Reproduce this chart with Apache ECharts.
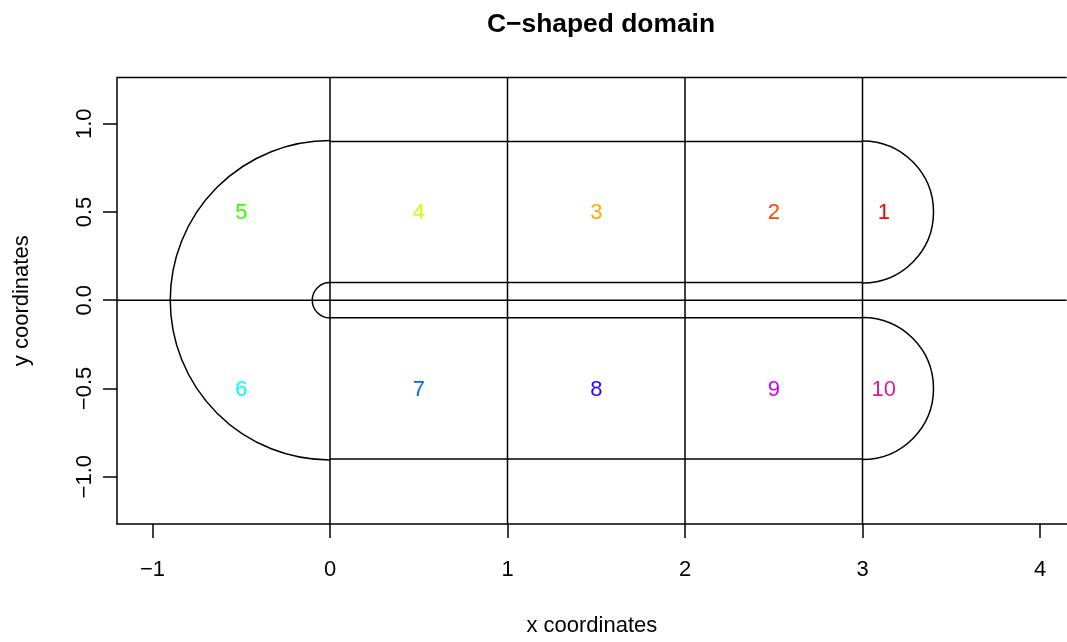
<!DOCTYPE html>
<html>
<head>
<meta charset="utf-8">
<script src="https://cdn.jsdelivr.net/npm/echarts@6/dist/echarts.min.js"></script>
<style>html,body{margin:0;padding:0;background:#fff;}#c{width:1067px;height:642px;}</style>
</head>
<body>
<div id="c"></div>
<script>
// ---- data ----
const xTicks = [-1, 0, 1, 2, 3, 4];
const yTicks = [-1, -0.5, 0, 0.5, 1];
const gridX = [0, 1, 2, 3];
const gridY = [0];
// straight boundary segments: x1, y1, x2, y2
const segX1 = [0, 3, 0, 3];
const segY1 = [0.9, 0.1, -0.1, -0.9];
const segX2 = [3, 0, 3, 0];
const segY2 = [0.9, 0.1, -0.1, -0.9];
// boundary arcs: centre, radius, math angles (deg)
const arcCx = [3, 0, 3, 0];
const arcCy = [0.5, 0, -0.5, 0];
const arcR = [0.4, 0.1, 0.4, 0.9];
const arcStart = [90, 90, 90, 90];
const arcEnd = [-90, 270, -90, 270];
// region labels
const labelText = ['1','2','3','4','5','6','7','8','9','10'];
const labelX = [3.12, 2.5, 1.5, 0.5, -0.5, -0.5, 0.5, 1.5, 2.5, 3.12];
const labelY = [0.5, 0.5, 0.5, 0.5, 0.5, -0.5, -0.5, -0.5, -0.5, -0.5];
const labelColor = ['#FF0000','#FF4400','#FFAA00','#CCFF00','#33FF00','#00FFFF','#0066FF','#3300FF','#CC00FF','#DD1AA0'];

const X_MIN = -1.2, X_MAX = 4.15, Y_MIN = -1.268, Y_MAX = 1.262;
const FONT = '"Liberation Sans", Arial, Helvetica, sans-serif';
const LW = 1.5;
const fmt = v => (v < 0 ? '\u2212' : '') + Math.abs(v);
const fmtY = v => (v < 0 ? '\u2212' : '') + Math.abs(v).toFixed(1);

const chart = echarts.init(document.getElementById('c'), null, {renderer: 'canvas'});

const lineData = [];
gridX.forEach(x => lineData.push([x, Y_MIN, x, Y_MAX]));
gridY.forEach(y => lineData.push([X_MIN, y, X_MAX, y]));
lineData.push([X_MIN, Y_MAX, X_MAX, Y_MAX]); // top of plot box
for (let i = 0; i < segX1.length; i++) lineData.push([segX1[i], segY1[i], segX2[i], segY2[i]]);

const arcData = arcCx.map((c, i) => [c, arcCy[i], arcR[i], arcStart[i], arcEnd[i]]);
const textData = labelText.map((t, i) => ({value: [labelX[i], labelY[i]], name: t, color: labelColor[i]}));

chart.setOption({
  animation: false,
  title: {
    text: 'C\u2212shaped domain',
    left: 596, top: 7, textAlign: 'center',
    textStyle: {fontFamily: FONT, fontWeight: 'bold', fontSize: 26.4, color: '#000'}
  },
  grid: {
    left: 117, top: 77.5, width: (X_MAX - X_MIN) * 177.5, height: (Y_MAX - Y_MIN) * 177.5,
    show: false
  },
  xAxis: {
    type: 'value', min: X_MIN, max: X_MAX,
    name: 'x coordinates', nameLocation: 'middle', nameGap: 91,
    nameTextStyle: {fontFamily: FONT, fontSize: 22, color: '#000'},
    axisLine: {show: true, onZero: false, lineStyle: {color: '#000', width: LW}},
    axisTick: {show: true, length: 14, customValues: xTicks, lineStyle: {color: '#000', width: LW}},
    axisLabel: {customValues: xTicks, formatter: fmt, margin: 35, fontFamily: FONT, fontSize: 22, color: '#000'},
    splitLine: {show: false}
  },
  yAxis: {
    type: 'value', min: Y_MIN, max: Y_MAX,
    name: 'y coordinates', nameLocation: 'middle', nameGap: 84, nameRotate: 90,
    nameTextStyle: {fontFamily: FONT, fontSize: 22, color: '#000'},
    axisLine: {show: true, onZero: false, lineStyle: {color: '#000', width: LW}},
    axisTick: {show: true, length: 14, customValues: yTicks, lineStyle: {color: '#000', width: LW}},
    axisLabel: {customValues: yTicks, formatter: fmtY, rotate: 90, margin: 21, fontFamily: FONT, fontSize: 22, color: '#000'},
    splitLine: {show: false}
  },
  series: [
    {
      type: 'custom', silent: true, clip: false,
      data: lineData,
      renderItem: (params, api) => {
        const p1 = api.coord([api.value(0), api.value(1)]);
        const p2 = api.coord([api.value(2), api.value(3)]);
        return {type: 'line', shape: {x1: p1[0], y1: p1[1], x2: p2[0], y2: p2[1]},
          style: {stroke: '#000', lineWidth: LW}};
      }
    },
    {
      type: 'custom', silent: true, clip: false,
      data: arcData,
      renderItem: (params, api) => {
        const c = api.coord([api.value(0), api.value(1)]);
        const r = api.size([api.value(2), 0])[0];
        const s = -api.value(3) * Math.PI / 180;
        const e = -api.value(4) * Math.PI / 180;
        return {type: 'arc', shape: {cx: c[0], cy: c[1], r: r, startAngle: Math.min(s, e), endAngle: Math.max(s, e), clockwise: true},
          style: {stroke: '#000', lineWidth: LW, fill: null}};
      }
    },
    {
      type: 'custom', silent: true, clip: false,
      data: textData,
      renderItem: (params, api) => {
        const p = api.coord([api.value(0), api.value(1)]);
        const d = textData[params.dataIndex];
        return {type: 'text', x: p[0], y: p[1] + 1,
          style: {text: d.name, fill: d.color, font: '22px ' + FONT, textAlign: 'center', textVerticalAlign: 'middle'}};
      }
    }
  ]
});
</script>
</body>
</html>
